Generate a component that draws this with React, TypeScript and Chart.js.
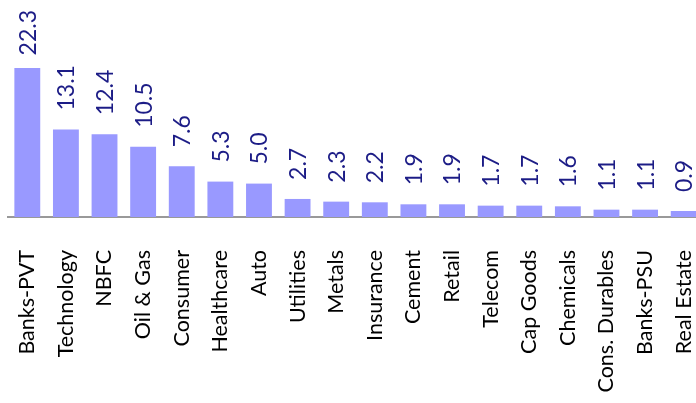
import React, { useEffect, useRef } from "react";
import { Chart, registerables } from "chart.js";

Chart.register(...registerables);

const categories = [
  "Banks-PVT", "Technology", "NBFC", "Oil & Gas", "Consumer", "Healthcare", "Auto",
  "Utilities", "Metals", "Insurance", "Cement", "Retail", "Telecom", "Cap Goods",
  "Chemicals", "Cons. Durables", "Banks-PSU", "Real Estate",
];
const values = [22.3, 13.1, 12.4, 10.5, 7.6, 5.3, 5.0, 2.7, 2.3, 2.2, 1.9, 1.9, 1.7, 1.7, 1.6, 1.1, 1.1, 0.9];

const FONT = "Lato, 'Open Sans', sans-serif";

const labelPlugin = {
  id: "barLabels",
  afterDatasetsDraw(chart: any) {
    const ctx = chart.ctx;
    const meta = chart.getDatasetMeta(0);
    ctx.save();
    ctx.font = `23px ${FONT}`;
    ctx.fillStyle = "#1c1c86";
    ctx.textAlign = "left";
    ctx.textBaseline = "middle";
    meta.data.forEach((bar: any, i: number) => {
      const txt = values[i].toFixed(1);
      const w = ctx.measureText(txt).width;
      let start = bar.y - 19;
      if (start - w < 10) start = 10 + w;
      ctx.save();
      ctx.translate(bar.x + 1, start);
      ctx.rotate(-Math.PI / 2);
      ctx.fillText(txt, 0, 0);
      ctx.restore();
    });
    ctx.restore();
  },
};

export default function App() {
  const ref = useRef<HTMLCanvasElement>(null);
  useEffect(() => {
    if (!ref.current) return;
    const chart = new Chart(ref.current, {
      type: "bar",
      data: {
        labels: categories,
        datasets: [
          {
            data: values,
            backgroundColor: "#9999ff",
            borderWidth: 0,
            categoryPercentage: 1,
            barPercentage: 0.67,
          },
        ],
      },
      options: {
        animation: false,
        responsive: false,
        maintainAspectRatio: false,
        layout: { padding: { left: 8, right: 1, top: 50, bottom: 0 } },
        plugins: { legend: { display: false }, tooltip: { enabled: false } },
        scales: {
          x: {
            grid: { display: false },
            border: { display: true, color: "#999999", width: 2 },
            ticks: {
              minRotation: 90,
              maxRotation: 90,
              autoSkip: false,
              padding: 25,
              color: "#000000",
              font: { family: FONT, size: 21.5 },
            },
            afterFit(scale: any) {
              scale.height = 186;
              scale.paddingLeft = 0;
              scale.paddingRight = 0;
            },
          },
          y: {
            display: false,
            min: 0,
            max: 25,
          },
        },
      },
      plugins: [labelPlugin],
    });
    return () => chart.destroy();
  }, []);
  return (
    <div style={{ position: "fixed", left: 0, top: 0, width: 696, height: 403, overflow: "hidden", background: "#fff" }}>
      <canvas ref={ref} width={704} height={403} style={{ position: "absolute", left: 0, top: 0, width: 704, height: 403 }} />
    </div>
  );
}
